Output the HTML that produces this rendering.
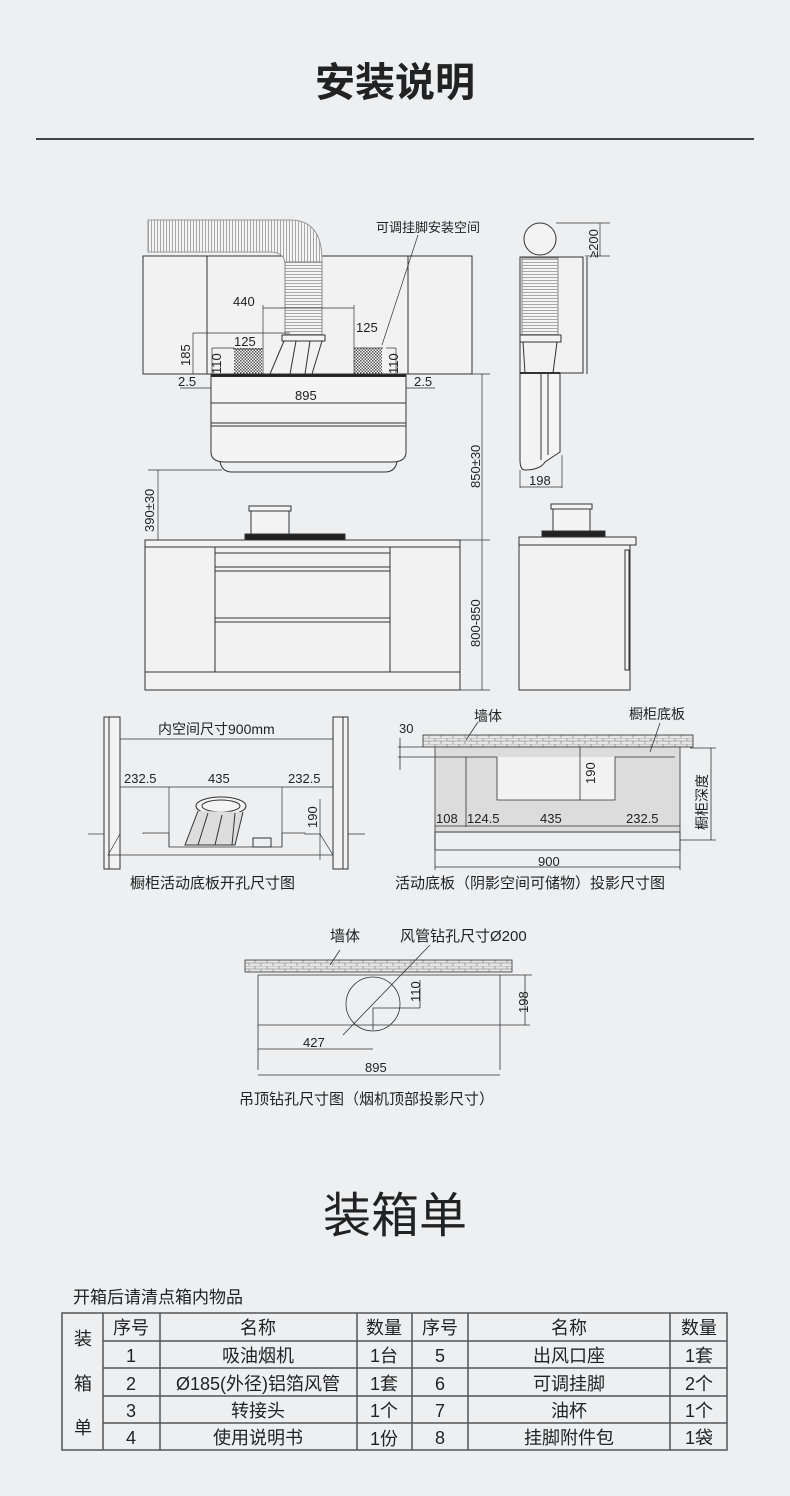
<!DOCTYPE html>
<html><head><meta charset="utf-8"><style>
html,body{margin:0;padding:0;background:#eeeff0;}
body{width:790px;height:1496px;position:relative;overflow:hidden;font-family:"Liberation Sans","Noto Sans CJK SC",sans-serif;color:#222;}
svg{position:absolute;left:0;top:0;}
text{font-family:"Liberation Sans","Noto Sans CJK SC",sans-serif;fill:#222;}
</style></head><body>
<svg width="790" height="1496" viewBox="0 0 790 1496">
<defs>
<pattern id="brick" width="12" height="6" patternUnits="userSpaceOnUse">
<rect width="12" height="6" fill="#e6e6e6"/>
<path d="M0 0H12M0 3H12M3 0V3M9 3V6" stroke="#777" stroke-width="0.6" fill="none"/>
</pattern>
<pattern id="check" width="3" height="3" patternUnits="userSpaceOnUse">
<rect width="3" height="3" fill="#fff"/><rect width="1.5" height="1.5" fill="#555"/><rect x="1.5" y="1.5" width="1.5" height="1.5" fill="#555"/>
</pattern>
<pattern id="rib" width="3" height="3" patternUnits="userSpaceOnUse">
<rect width="3" height="3" fill="#f4f4f4"/><path d="M1.5 0V3" stroke="#888" stroke-width="0.7"/>
</pattern>
<pattern id="ribh" width="3" height="3" patternUnits="userSpaceOnUse">
<rect width="3" height="3" fill="#f4f4f4"/><path d="M0 1.5H3" stroke="#888" stroke-width="0.7"/>
</pattern>
</defs>

<text x="395" y="96" text-anchor="middle" font-size="40" font-weight="bold" fill="#111">安装说明</text>
<line x1="36" y1="139" x2="754" y2="139" stroke="#444" stroke-width="2"/>

<g stroke="#333" stroke-width="1" fill="none">
<rect x="143" y="256" width="329" height="118" fill="#f2f2f2"/>
<line x1="207" y1="256" x2="207" y2="374"/><line x1="408" y1="256" x2="408" y2="374"/>
<path d="M148 220 H290 Q322 220 322 260 V335 H285 V265 Q285 252 270 252 H148 Z" fill="url(#rib)" stroke="#999"/>
<rect x="285" y="262" width="37" height="73" fill="url(#ribh)" stroke="#888"/>
<path d="M282 335 H325 V341 H282Z" fill="#f4f4f4"/>
<path d="M284 341 L270 374 M322 341 L312 374 M296 341 L290 374 M310 341 L305 374"/>
<rect x="234" y="348" width="28" height="26" fill="url(#check)" stroke="none"/>
<rect x="354" y="348" width="28" height="26" fill="url(#check)" stroke="none"/>
<rect x="211" y="374" width="195" height="3" fill="#222"/>
<path d="M211 377 V452 Q211 462 225 462 H392 Q406 462 406 452 V377" fill="#f4f4f4"/>
<line x1="211" y1="403" x2="406" y2="403"/><line x1="211" y1="423" x2="406" y2="423"/><line x1="211" y1="426" x2="406" y2="426"/>
<path d="M220 462 Q222 472 232 472 H385 Q395 472 397 462"/>
<line x1="263" y1="308" x2="354" y2="308" stroke-width="0.7"/>
<line x1="263" y1="305" x2="263" y2="374" stroke-width="0.7"/><line x1="354" y1="305" x2="354" y2="374" stroke-width="0.7"/>
<line x1="193" y1="333" x2="290" y2="333" stroke-width="0.7"/><line x1="193" y1="333" x2="193" y2="374" stroke-width="0.7"/>
<line x1="212" y1="348" x2="234" y2="348" stroke-width="0.7"/><line x1="212" y1="348" x2="212" y2="374" stroke-width="0.7"/>
<line x1="386" y1="348" x2="396" y2="348" stroke-width="0.7"/><line x1="396" y1="348" x2="396" y2="374" stroke-width="0.7"/>
<line x1="233" y1="349" x2="263" y2="349" stroke-width="0.7"/><line x1="354" y1="348" x2="383" y2="348" stroke-width="0.7"/>
<line x1="180" y1="388" x2="211" y2="388" stroke-width="0.7"/>
<line x1="406" y1="388" x2="435" y2="388" stroke-width="0.7"/>
<line x1="213" y1="403" x2="404" y2="403" stroke-width="0.7"/>
<line x1="382" y1="345" x2="418" y2="235" stroke-width="0.7"/>
<line x1="472" y1="374" x2="490" y2="374" stroke-width="0.7"/>
<line x1="482" y1="374" x2="482" y2="690" stroke-width="0.7"/>
<line x1="460" y1="540" x2="490" y2="540" stroke-width="0.7"/>
<line x1="460" y1="690" x2="490" y2="690" stroke-width="0.7"/>
<line x1="148" y1="470" x2="222" y2="470" stroke-width="0.7"/>
<line x1="158" y1="470" x2="158" y2="540" stroke-width="0.7"/>
<rect x="145" y="540" width="315" height="150" fill="#f2f2f2"/>
<line x1="145" y1="547" x2="460" y2="547"/>
<line x1="215" y1="547" x2="215" y2="672"/><line x1="390" y1="547" x2="390" y2="672"/>
<rect x="215" y="553" width="175" height="14"/>
<rect x="215" y="571" width="175" height="47"/>
<rect x="215" y="622" width="175" height="50"/>
<line x1="145" y1="672" x2="460" y2="672"/>
<rect x="245" y="534" width="100" height="6" fill="#222"/>
<rect x="251" y="510" width="38" height="24" fill="#f4f4f4"/><rect x="249" y="506" width="42" height="5" fill="#f4f4f4"/>
<circle cx="540" cy="239" r="16" fill="#f4f4f4"/>
<line x1="556" y1="223" x2="610" y2="223" stroke-width="0.7"/><line x1="585" y1="256" x2="610" y2="256" stroke-width="0.7"/>
<line x1="600" y1="223" x2="600" y2="256" stroke-width="0.7"/>
<rect x="520" y="257" width="63" height="116" fill="#f2f2f2"/>
<line x1="587" y1="257" x2="587" y2="374"/>
<rect x="522" y="258" width="36" height="77" fill="url(#ribh)" stroke="#888"/>
<rect x="520" y="335" width="41" height="7" fill="#f4f4f4"/>
<path d="M523 342 L525 373 M557 342 L553 373"/>
<path d="M520 373 H560 V452 L545 462 Q540 470 525 470 Q520 470 520 460 Z" fill="#f4f4f4"/>
<line x1="520" y1="373" x2="560" y2="373" stroke-width="2"/>
<line x1="541" y1="373" x2="541" y2="460"/><line x1="548" y1="373" x2="548" y2="455"/>
<line x1="520" y1="470" x2="520" y2="488" stroke-width="0.7"/><line x1="562" y1="455" x2="562" y2="488" stroke-width="0.7"/>
<line x1="520" y1="487" x2="562" y2="487" stroke-width="0.7"/>
<path d="M519 537 H636 V545 H630 V690 H519 Z" fill="#f2f2f2"/>
<line x1="519" y1="545" x2="630" y2="545"/>
<rect x="625" y="550" width="4" height="120"/>
<rect x="542" y="531" width="63" height="6" fill="#222"/>
<rect x="553" y="509" width="37" height="22" fill="#f4f4f4"/><rect x="551" y="504" width="41" height="5" fill="#f4f4f4"/>
</g>
<g font-size="13">
<text x="376" y="232">可调挂脚安装空间</text>
<text x="233" y="306">440</text>
<text x="356" y="332">125</text>
<text x="234" y="346">125</text>
<text x="295" y="400">895</text>
<text x="178" y="386">2.5</text>
<text x="414" y="386">2.5</text>
<text x="529" y="485">198</text>
<text transform="translate(190,366) rotate(-90)">185</text>
<text transform="translate(221,374) rotate(-90)">110</text>
<text transform="translate(398,374) rotate(-90)">110</text>
<text transform="translate(598,258) rotate(-90)">≥200</text>
<text transform="translate(480,488) rotate(-90)">850±30</text>
<text transform="translate(154,532) rotate(-90)">390±30</text>
<text transform="translate(480,647) rotate(-90)">800-850</text>
</g>

<g stroke="#333" stroke-width="1" fill="none">
<rect x="104" y="717" width="16" height="152" fill="#f2f2f2"/>
<line x1="109" y1="717" x2="109" y2="869"/>
<rect x="333" y="717" width="15" height="152" fill="#f2f2f2"/>
<line x1="343" y1="717" x2="343" y2="869"/>
<line x1="88" y1="834" x2="104" y2="834" stroke-width="0.7"/><line x1="348" y1="834" x2="365" y2="834" stroke-width="0.7"/>
<path d="M120 834 L108 855 H333 L320 834 H305 V833 H282 V847 H169 V833 H143 V834" stroke-width="0.7"/>
<line x1="120" y1="739" x2="333" y2="739" stroke-width="0.7"/>
<line x1="120" y1="787" x2="333" y2="787" stroke-width="0.7"/>
<line x1="169" y1="787" x2="169" y2="847" stroke-width="0.7"/><line x1="282" y1="787" x2="282" y2="847" stroke-width="0.7"/>
<line x1="320" y1="799" x2="320" y2="860" stroke-width="0.7"/>
<ellipse cx="221" cy="806" rx="25" ry="9" fill="#f4f4f4"/>
<ellipse cx="221" cy="806" rx="19" ry="6"/>
<path d="M198 811 L185 845 H235 L243 812" fill="#ddd"/>
<path d="M208 813 L198 845 M222 815 L215 845 M235 813 L232 845"/>
<rect x="253" y="838" width="18" height="9"/>
</g>
<g font-size="13">
<text x="158" y="734" font-size="14">内空间尺寸900mm</text>
<text x="124" y="783">232.5</text><text x="208" y="783">435</text><text x="288" y="783">232.5</text>
<text transform="translate(317,828) rotate(-90)">190</text>
<text x="130" y="888" font-size="15">橱柜活动底板开孔尺寸图</text>
</g>

<g stroke="#333" stroke-width="0.8" fill="none">
<rect x="423" y="735" width="270" height="12" fill="url(#brick)"/>
<path d="M435 747 H680 V832 H435 Z" fill="#dcdcdc"/>
<path d="M497 757 H615 V800 H497 Z" fill="#f2f2f2" stroke="none"/>
<path d="M466 757 V827 M497 757 V800 H615 V757 H675 M435 757 H497" stroke-width="0.8"/>
<line x1="435" y1="832" x2="435" y2="870"/><line x1="680" y1="832" x2="680" y2="870"/>
<rect x="435" y="832" width="245" height="18"/>
<line x1="435" y1="867" x2="680" y2="867"/>
<line x1="435" y1="826" x2="680" y2="826"/>
<line x1="580" y1="747" x2="580" y2="800"/>
<line x1="690" y1="748" x2="716" y2="748"/><line x1="711" y1="748" x2="711" y2="840"/>
<line x1="680" y1="840" x2="716" y2="840"/>
<line x1="398" y1="747" x2="423" y2="747"/><line x1="398" y1="757" x2="435" y2="757"/>
<line x1="400" y1="738" x2="400" y2="770"/>
<line x1="466" y1="740" x2="478" y2="722"/><line x1="650" y1="752" x2="660" y2="723"/>
</g>
<g font-size="13">
<text x="474" y="721" font-size="14">墙体</text>
<text x="629" y="719" font-size="14">橱柜底板</text>
<text x="399" y="733">30</text>
<text x="436" y="823">108</text><text x="467" y="823">124.5</text><text x="540" y="823">435</text><text x="626" y="823">232.5</text>
<text transform="translate(595,784) rotate(-90)">190</text>
<text x="538" y="866">900</text>
<text transform="translate(707,830) rotate(-90)" font-size="14">橱柜深度</text>
<text x="395" y="888" font-size="15">活动底板（阴影空间可储物）投影尺寸图</text>
</g>

<g stroke="#333" stroke-width="0.8" fill="none">
<rect x="245" y="960" width="267" height="12" fill="url(#brick)"/>
<path d="M258 975 V1070 M500 975 V1070 M258 975 H500 M258 1025 H530"/>
<circle cx="373" cy="1004" r="27"/>
<path d="M373 1030 V1008 H420 M420 980 V1008 M500 975 H532 M525 975 V1025"/>
<line x1="258" y1="1049" x2="373" y2="1049"/>
<line x1="258" y1="1075" x2="500" y2="1075"/>
<line x1="343" y1="1035" x2="430" y2="945"/>
<line x1="330" y1="965" x2="340" y2="950"/>
</g>
<g font-size="13">
<text x="330" y="941" font-size="15">墙体</text>
<text x="400" y="941" font-size="15">风管钻孔尺寸Ø200</text>
<text transform="translate(420,1002) rotate(-90)">110</text>
<text transform="translate(528,1013) rotate(-90)">198</text>
<text x="303" y="1047">427</text>
<text x="365" y="1072">895</text>
<text x="239" y="1104" font-size="15">吊顶钻孔尺寸图（烟机顶部投影尺寸）</text>
</g>

<text x="395" y="1232" text-anchor="middle" font-size="48" fill="#111">装箱单</text>
<text x="73" y="1303" font-size="17">开箱后请清点箱内物品</text>

<g stroke="#555" stroke-width="1.5" fill="none">
<rect x="62" y="1313" width="665" height="137"/>
<line x1="103" y1="1313" x2="103" y2="1450"/>
<line x1="160" y1="1313" x2="160" y2="1450"/>
<line x1="357" y1="1313" x2="357" y2="1450"/>
<line x1="412" y1="1313" x2="412" y2="1450"/>
<line x1="468" y1="1313" x2="468" y2="1450"/>
<line x1="670" y1="1313" x2="670" y2="1450"/>
<line x1="103" y1="1341" x2="727" y2="1341"/>
<line x1="103" y1="1368" x2="727" y2="1368"/>
<line x1="103" y1="1396" x2="727" y2="1396"/>
<line x1="103" y1="1423" x2="727" y2="1423"/>
</g>
<g font-size="18" text-anchor="middle">
<text x="83" y="1345">装</text><text x="83" y="1390">箱</text><text x="83" y="1434">单</text>
<text x="131" y="1334">序号</text><text x="258" y="1334">名称</text><text x="384" y="1334">数量</text><text x="440" y="1334">序号</text><text x="569" y="1334">名称</text><text x="699" y="1334">数量</text>
<text x="131" y="1362">1</text><text x="258" y="1362">吸油烟机</text><text x="384" y="1362">1台</text><text x="440" y="1362">5</text><text x="569" y="1362">出风口座</text><text x="699" y="1362">1套</text>
<text x="131" y="1390">2</text><text x="258" y="1390">Ø185(外径)铝箔风管</text><text x="384" y="1390">1套</text><text x="440" y="1390">6</text><text x="569" y="1390">可调挂脚</text><text x="699" y="1390">2个</text>
<text x="131" y="1417">3</text><text x="258" y="1417">转接头</text><text x="384" y="1417">1个</text><text x="440" y="1417">7</text><text x="569" y="1417">油杯</text><text x="699" y="1417">1个</text>
<text x="131" y="1444">4</text><text x="258" y="1444">使用说明书</text><text x="384" y="1445">1份</text><text x="440" y="1444">8</text><text x="569" y="1444">挂脚附件包</text><text x="699" y="1444">1袋</text>
</g>
</svg>
</body></html>
